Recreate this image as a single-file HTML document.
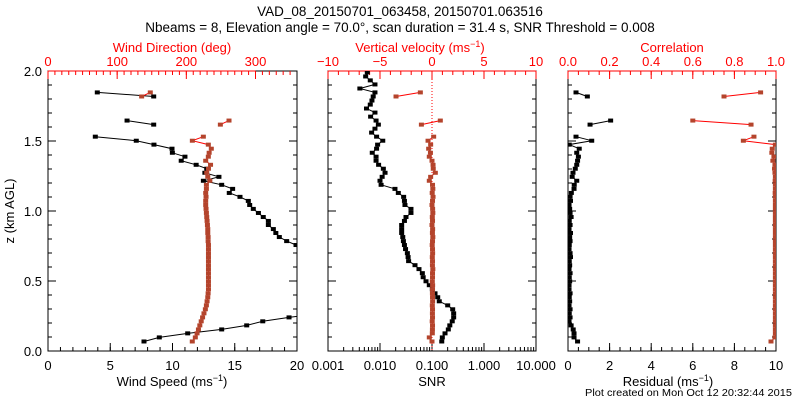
<!DOCTYPE html>
<html><head><meta charset="utf-8"><style>
html,body{margin:0;padding:0;background:#fff;}
svg{display:block;font-family:"Liberation Sans",sans-serif;}
</style></head><body>
<svg id="chart" width="800" height="400" viewBox="0 0 800 400">
<text x="400" y="16" font-size="13.5" text-anchor="middle">VAD_08_20150701_063458, 20150701.063516</text>
<text x="400" y="32" font-size="13.5" text-anchor="middle">Nbeams = 8, Elevation angle = 70.0°, scan duration = 31.4 s, SNR Threshold = 0.008</text>
<text x="14" y="211" font-size="13" text-anchor="middle" transform="rotate(-90 14 211)">z (km AGL)</text>
<text x="585" y="396" font-size="10" textLength="207" lengthAdjust="spacingAndGlyphs">Plot created on Mon Oct 12 20:32:44 2015</text>
</svg>
<script>
const heights=[1.990,1.961,1.933,1.904,1.875,1.847,1.818,1.789,1.760,1.732,1.703,1.674,1.646,1.617,1.588,1.560,1.531,1.502,1.474,1.445,1.416,1.388,1.359,1.330,1.302,1.273,1.244,1.216,1.187,1.158,1.129,1.101,1.072,1.043,1.015,0.986,0.957,0.929,0.900,0.871,0.843,0.814,0.785,0.757,0.728,0.699,0.671,0.642,0.613,0.585,0.556,0.527,0.498,0.470,0.441,0.412,0.384,0.355,0.326,0.298,0.269,0.240,0.212,0.183,0.154,0.126,0.097,0.068];
const windSpeed=[null,null,null,null,null,3.96,8.49,null,null,null,null,null,6.35,8.49,null,null,3.8,7.09,8.51,9.96,9.99,11.0,10.7,11.9,12.75,12.6,13.73,12.48,13.95,14.83,14.56,15.42,16.09,16.2,16.49,16.9,17.29,17.7,17.7,18.1,18.3,18.58,19.17,19.92,21,22,23,24,25,25,25,25,25,24.5,24,24,23.5,23,23,22.5,22,19.36,17.25,15.96,13.95,11.22,8.94,7.71];
const windDir=[null,null,null,null,null,147.9,135.4,null,null,null,null,null,261.7,249.2,null,null,224.6,208.7,231.8,236.1,233,231.8,228,235,232,229.5,231,234,229,229,228,228.5,228,228,228.5,229,229.5,230,230.5,231,231,231.5,231.5,232,232,232,232,232,232,232,232,232,232,232,232,231.5,231,230,229,227.5,225.5,223.5,221.5,219.5,217.5,215.5,213,208.6];
const vertVel=[null,null,null,null,null,-1.12,-3.46,null,null,null,null,null,0.8,-1.02,null,null,0.16,-0.38,-0.13,-0.32,-0.15,-0.26,0,0.1,0.12,0.32,-0.13,-0.26,0.05,0.08,0.02,0.1,0.05,0.0,0.06,0.08,0.03,0.05,0.0,0.06,0.04,0.08,0.05,0.02,0.05,0.06,0.03,0.05,0.04,0.08,0.05,0.05,0.03,0.06,0.05,0.04,0.05,0.06,0.03,0.05,0.04,0.05,0.02,0.05,0.04,0.03,-0.26,0];
const snr=[0.0057,0.0053,0.0065,0.0080,0.0041,0.0080,0.0074,0.0070,0.0065,0.0055,0.0080,0.0066,0.0084,0.0093,0.0080,0.0069,0.0086,0.0113,0.0090,0.0086,0.0071,0.0084,0.0084,0.0094,0.0116,0.0125,0.011,0.0100,0.0105,0.0194,0.0225,0.0285,0.0295,0.0302,0.0394,0.0394,0.0316,0.0295,0.0261,0.0261,0.0261,0.0274,0.0282,0.0295,0.031,0.0336,0.0347,0.0355,0.0471,0.0562,0.0652,0.0676,0.0767,0.0887,0.1014,0.1143,0.1288,0.138,0.2004,0.25,0.261,0.261,0.245,0.22,0.206,0.178,0.158,0.154];
const residual=[null,null,null,null,null,0.385,0.93,null,null,null,null,null,2.05,1.06,null,null,0.385,1.14,0.06,0.54,0.42,0.5,0.46,0.42,0.35,0.24,0.2,0.42,0.3,0.29,0.16,0.1,0.12,0.05,0.08,0.1,0.15,0.06,0.1,0.05,0.12,0.08,0.1,0.06,0.05,0.1,0.12,0.06,0.08,0.05,0.1,0.06,0.08,0.05,0.05,0.1,0.06,0.08,0.05,0.1,0.06,0.1,0.05,0.15,0.25,0.29,0.29,0.46];
const correlation=[null,null,null,null,null,0.926,0.75,null,null,null,null,null,0.6,0.88,null,null,0.894,0.843,0.997,0.982,0.98,0.99,0.985,0.995,0.993,0.995,0.997,0.996,0.997,0.997,0.996,0.997,0.997,0.997,0.997,0.997,0.997,0.997,0.997,0.997,0.997,0.997,0.997,0.997,0.997,0.997,0.997,0.997,0.997,0.997,0.997,0.997,0.997,0.997,0.997,0.997,0.997,0.997,0.997,0.997,0.997,0.997,0.997,0.997,0.997,0.997,0.995,0.976];
const zTicks=["0.0","0.5","1.0","1.5","2.0"];
const wsTicks=["0","5","10","15","20"];
const wdTicks=["0","100","200","300"];
const snrTicks=["0.001","0.010","0.100","1.000","10.000"];
const vvTicks=["−10","−5","0","5","10"];
const resTicks=["0","2","4","6","8","10"];
const corTicks=["0.0","0.2","0.4","0.6","0.8","1.0"];

const NS="http://www.w3.org/2000/svg";
const svg=document.getElementById('chart');
const TOP=71,BOT=351,RED="#ff0000",BROWN="#b4442c";
function el(tag,attrs,parent){const e=document.createElementNS(NS,tag);for(const k in attrs)e.setAttribute(k,attrs[k]);(parent||svg).appendChild(e);return e;}
function yz(z){return BOT-(z/2)*(BOT-TOP);}
function lin(x0,x1,d0,d1){return v=>x0+(v-d0)/(d1-d0)*(x1-x0);}
function logs(x0,x1,d0,d1){return v=>x0+(Math.log10(v)-Math.log10(d0))/(Math.log10(d1)-Math.log10(d0))*(x1-x0);}

function panel(name,x0,x1,idx){
  const g=el('g',{});
  
  
  const r=el('rect',{x:x0,y:TOP,width:x1-x0,height:BOT-TOP,fill:'none',stroke:'#000','stroke-width':1},g);
  
  
  const cp=el('clipPath',{id:'clip'+idx},g);
  el('rect',{x:x0,y:TOP,width:x1-x0,height:BOT-TOP},cp);
  for(let k=0;k<=20;k++){const y=yz(k*0.1);const len=(k%5==0)?8:4;
    el('line',{x1:x0,x2:x0+len,y1:y,y2:y,stroke:'#000'},g);
    el('line',{x1:x1,x2:x1-len,y1:y,y2:y,stroke:'#000'},g);}
  return g;
}
function xTicksBottom(g,sc,majors,minors,labels,name){
  minors.forEach(v=>{const x=sc(v);el('line',{x1:x,x2:x,y1:BOT,y2:BOT-4,stroke:'#000'},g);});
  majors.forEach((v,i)=>{const x=sc(v);el('line',{x1:x,x2:x,y1:BOT,y2:BOT-8,stroke:'#000'},g);
    const t=el('text',{x:x,y:370,'font-size':13,'text-anchor':'middle'},g);t.textContent=labels[i];
    
    });
}
function xTicksTop(g,sc,majors,minors,labels,name){
  minors.forEach(v=>{const x=sc(v);el('line',{x1:x,x2:x,y1:TOP,y2:TOP+4,stroke:RED},g);});
  majors.forEach((v,i)=>{const x=sc(v);el('line',{x1:x,x2:x,y1:TOP,y2:TOP+8,stroke:RED},g);
    const t=el('text',{x:x,y:66,'font-size':13,'text-anchor':'middle',fill:RED},g);t.textContent=labels[i];
    
    });
  el('line',{x1:sc(majors[0]),x2:sc(majors[majors.length-1]),y1:TOP,y2:TOP,stroke:RED},g);
}
function series(g,vals,sc,lineCol,markCol,name,idx){
  const sg=el('g',{'clip-path':'url(#clip'+idx+')'},g);
  
  
  let d='',pen=false;
  vals.forEach((v,i)=>{if(v===null){pen=false;return;}const x=sc(v),y=yz(heights[i]);d+=(pen?'L':'M')+x.toFixed(1)+' '+y.toFixed(1);pen=true;});
  el('path',{d:d,fill:'none',stroke:lineCol,'stroke-width':1},sg);
  vals.forEach((v,i)=>{if(v===null)return;const x=sc(v),y=yz(heights[i]);
    const m=el('rect',{x:x-2.5,y:y-2,width:5,height:4,fill:markCol},sg);
    
    });
}
function label(txt,x,y,col,name,sup){
  const t=el('text',{x:x,y:y,'font-size':13,'text-anchor':'middle',fill:col});
  
  
  t.appendChild(document.createTextNode(txt));
  if(sup){const s=el('tspan',{dy:-5,'font-size':9},t);s.textContent=sup;const s2=el('tspan',{dy:5},t);s2.textContent=')';}
}
function range(a,b,s){const r=[];for(let v=a;v<=b+1e-9;v+=s)r.push(+v.toFixed(6));return r;}

zTicks.forEach((l,i)=>{const t=el('text',{x:42,y:yz(i*0.5)+5,'font-size':13,'text-anchor':'end'});t.textContent=l;
  
  });

const p1=panel('wind',48,297,1);
const sWs=lin(48,297,0,20), sWd=lin(48,297,0,360);
xTicksBottom(p1,sWs,[0,5,10,15,20],range(0,20,1),wsTicks,'wind-speed');
xTicksTop(p1,sWd,[0,100,200,300],range(0,350,10),wdTicks,'wind-direction');
series(p1,windSpeed,sWs,'#000','#000','wind-speed',1);
series(p1,windDir,sWd,RED,BROWN,'wind-direction',1);
label('Wind Speed (ms',172,386,'#000','wind-speed-axis-title','−1');
label('Wind Direction (deg)',172,52,RED,'wind-direction-axis-title');

const p2=panel('snr',328,536,2);
const sSnr=logs(328,536,0.001,10), sVv=lin(328,536,-10,10);
const snrMin=[];[0.001,0.01,0.1,1].forEach(d=>{for(let k=2;k<=9;k++)snrMin.push(d*k);});
xTicksBottom(p2,sSnr,[0.001,0.01,0.1,1,10],snrMin,snrTicks,'snr');
xTicksTop(p2,sVv,[-10,-5,0,5,10],range(-10,10,1),vvTicks,'vertical-velocity');
for(let y=TOP+2;y<BOT;y+=3){el('line',{x1:sVv(0),x2:sVv(0),y1:y,y2:y+1,stroke:RED},p2);}
series(p2,snr,sSnr,'#000','#000','snr',2);
series(p2,vertVel,sVv,RED,BROWN,'vertical-velocity',2);
label('SNR',432,386,'#000','snr-axis-title');
label('Vertical velocity (ms',420,52,RED,'vertical-velocity-axis-title','−1');

const p3=panel('residual',568,776,3);
const sRes=lin(568,776,0,10), sCor=lin(568,776,0,1);
xTicksBottom(p3,sRes,[0,2,4,6,8,10],range(0,10,0.5),resTicks,'residual');
xTicksTop(p3,sCor,[0,0.2,0.4,0.6,0.8,1],range(0,1,0.05),corTicks,'correlation');
series(p3,residual,sRes,'#000','#000','residual',3);
series(p3,correlation,sCor,RED,BROWN,'correlation',3);
label('Residual (ms',668,386,'#000','residual-axis-title','−1');
label('Correlation',672,52,RED,'correlation-axis-title');
</script>
</body></html>
